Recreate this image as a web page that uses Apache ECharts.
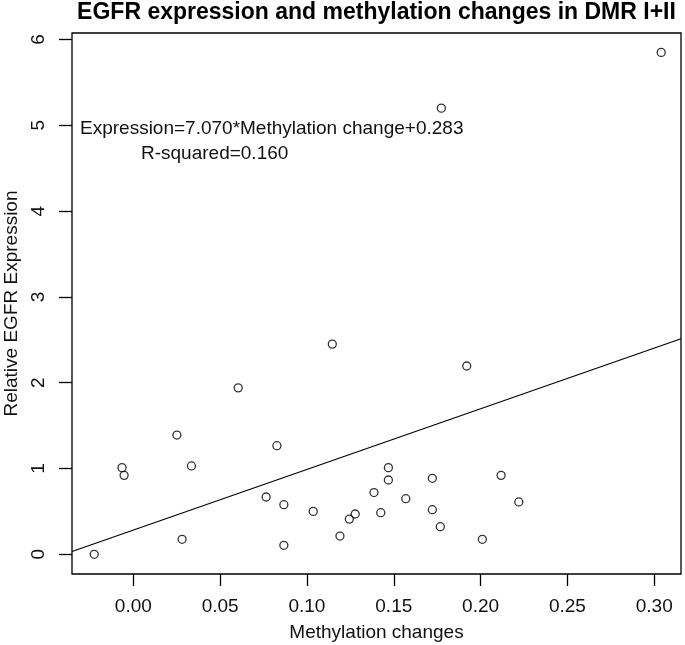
<!DOCTYPE html>
<html>
<head>
<meta charset="utf-8">
<script src="https://cdn.jsdelivr.net/npm/echarts@6/dist/echarts.min.js"></script>
<style>
html,body{margin:0;padding:0;background:#fff;}
#chart{width:685px;height:645px;}
</style>
</head>
<body>
<div id="chart"></div>
<script>
// Data
var methylation = [-0.0225, -0.0065, -0.0053, 0.0251, 0.0281, 0.0335, 0.0604, 0.0765, 0.0827, 0.0867, 0.0867, 0.1036, 0.1146, 0.1190, 0.1244, 0.1278, 0.1386, 0.1425, 0.1469, 0.1469, 0.1569, 0.1722, 0.1722, 0.1768, 0.1774, 0.1920, 0.2010, 0.2118, 0.2220, 0.3040];
var expression  = [0.00, 1.01, 0.92, 1.39, 0.175, 1.03, 1.94, 0.668, 1.266, 0.578, 0.105, 0.50, 2.45, 0.213, 0.41, 0.47, 0.72, 0.485, 1.01, 0.866, 0.648, 0.886, 0.52, 0.322, 5.20, 2.195, 0.175, 0.92, 0.61, 5.85];
var fitX = [-0.0353, 0.3154];
var fitY = [0.033, 2.513];
var xTicks = [0, 0.05, 0.10, 0.15, 0.20, 0.25, 0.30];
var yTicks = [0, 1, 2, 3, 4, 5, 6];
var titleText = 'EGFR expression and methylation changes in DMR I+II';
var eqText = 'Expression=7.070*Methylation change+0.283';
var r2Text = 'R-squared=0.160';

var points = methylation.map(function (x, i) { return [x, expression[i]]; });
var fitLine = fitX.map(function (x, i) { return [x, fitY[i]]; });

var FONT = '"Liberation Sans", Arial, sans-serif';
var chart = echarts.init(document.getElementById('chart'), null, {renderer: 'canvas'});
chart.setOption({
  backgroundColor: '#fff',
  animation: false,
  grid: {left: 72, right: 4, top: 33, bottom: 71, show: true, borderColor: '#000', borderWidth: 1.3,
    backgroundColor: 'transparent', containLabel: false, outerBoundsMode: 'none'},
  xAxis: {
    type: 'value',
    min: -0.0353, max: 0.3154,
    name: 'Methylation changes',
    nameLocation: 'middle',
    nameGap: 49,
    nameTextStyle: {fontFamily: FONT, fontSize: 19, color: '#111'},
    axisLine: {show: false, onZero: false},
    splitLine: {show: false},
    axisTick: {show: true, inside: false, length: 12, lineStyle: {color: '#000', width: 1.3}, customValues: xTicks},
    axisLabel: {customValues: xTicks, margin: 23, fontFamily: FONT, fontSize: 19, color: '#111',
      formatter: function (v) { return v.toFixed(2); }}
  },
  yAxis: {
    type: 'value',
    min: -0.2296, max: 6.076,
    name: 'Relative EGFR Expression',
    nameLocation: 'middle',
    nameRotate: 90,
    nameGap: 51,
    nameTextStyle: {fontFamily: FONT, fontSize: 19, color: '#111'},
    axisLine: {show: false, onZero: false},
    splitLine: {show: false},
    axisTick: {show: true, inside: false, length: 13, lineStyle: {color: '#000', width: 1.3}, customValues: yTicks},
    axisLabel: {customValues: yTicks, rotate: 90, margin: 24, fontFamily: FONT, fontSize: 19, color: '#111'}
  },
  graphic: [
    {type: 'text', x: 376.5, y: 1, style: {text: titleText, font: 'bold 23px ' + FONT, fill: '#000', textAlign: 'center', textVerticalAlign: 'top'}},
    {type: 'text', left: 80, top: 119, style: {text: eqText, font: '19px ' + FONT, fill: '#111'}},
    {type: 'text', left: 141, top: 144, style: {text: r2Text, font: '19px ' + FONT, fill: '#111'}}
  ],
  series: [
    {
      type: 'line',
      data: fitLine,
      symbol: 'none',
      lineStyle: {color: '#000', width: 1.2},
      z: 1
    },
    {
      type: 'scatter',
      data: points,
      symbol: 'circle',
      symbolSize: 8,
      itemStyle: {color: 'rgba(255,255,255,0)', borderColor: '#000', borderWidth: 1.3},
      z: 2
    }
  ]
});
</script>
</body>
</html>
